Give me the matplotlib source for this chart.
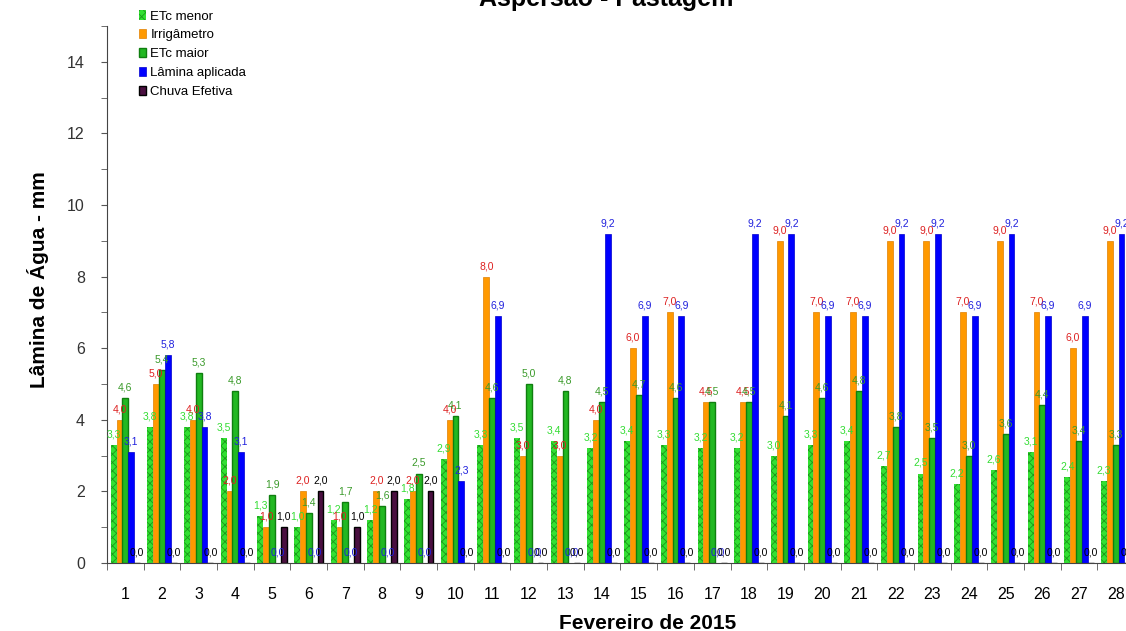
import numpy as np
import matplotlib.pyplot as plt

# --- DATA ---
dias = [str(d) for d in range(1, 29)]
etc_menor = [3.3, 3.8, 3.8, 3.5, 1.3, 1.0, 1.2, 1.2, 1.8, 2.9, 3.3, 3.5, 3.4, 3.2,
             3.4, 3.3, 3.2, 3.2, 3.0, 3.3, 3.4, 2.7, 2.5, 2.2, 2.6, 3.1, 2.4, 2.3]
irrigametro = [4.0, 5.0, 4.0, 2.0, 1.0, 2.0, 1.0, 2.0, 2.0, 4.0, 8.0, 3.0, 3.0, 4.0,
               6.0, 7.0, 4.5, 4.5, 9.0, 7.0, 7.0, 9.0, 9.0, 7.0, 9.0, 7.0, 6.0, 9.0]
etc_maior = [4.6, 5.4, 5.3, 4.8, 1.9, 1.4, 1.7, 1.6, 2.5, 4.1, 4.6, 5.0, 4.8, 4.5,
             4.7, 4.6, 4.5, 4.5, 4.1, 4.6, 4.8, 3.8, 3.5, 3.0, 3.6, 4.4, 3.4, 3.3]
lamina = [3.1, 5.8, 3.8, 3.1, 0.0, 0.0, 0.0, 0.0, 0.0, 2.3, 6.9, 0.0, 0.0, 9.2,
          6.9, 6.9, 0.0, 9.2, 9.2, 6.9, 6.9, 9.2, 9.2, 6.9, 9.2, 6.9, 6.9, 9.2]
chuva = [0.0, 0.0, 0.0, 0.0, 1.0, 2.0, 1.0, 2.0, 2.0, 0.0, 0.0, 0.0, 0.0, 0.0,
         0.0, 0.0, 0.0, 0.0, 0.0, 0.0, 0.0, 0.0, 0.0, 0.0, 0.0, 0.0, 0.0, 0.0]

plt.rcParams['font.family'] = ['Liberation Sans', 'DejaVu Sans']
plt.rcParams['hatch.linewidth'] = 0.6

fig = plt.figure(figsize=(11.26, 6.31), dpi=100)
ax = fig.add_axes([107 / 1126, 68 / 631, 1027 / 1126, 537 / 631])

x = np.arange(len(dias))
w = 0.16

series = [
    (etc_menor, "ETc menor", dict(color="#33e033", edgecolor="#1a9a1a", hatch="xxxx", linewidth=0), "#33dd33"),
    (irrigametro, "Irrigâmetro", dict(color="#ff9900", edgecolor="#e08000", linewidth=0.5), "#dd2020"),
    (etc_maior, "ETc maior", dict(color="#22b822", edgecolor="#0f7f0f", linewidth=1.0), "#3a9a2a"),
    (lamina, "Lâmina aplicada", dict(color="#0000ff", edgecolor="#0000cc", linewidth=0.5), "#2020dd"),
    (chuva, "Chuva Efetiva", dict(color="#4a0f40", edgecolor="black", linewidth=1.0), "black"),
]

for i, (vals, label, style, lcolor) in enumerate(series):
    pos = x + (i - 2) * w
    ax.bar(pos, vals, width=w, label=label, **style)
    for px, v in zip(pos, vals):
        ax.annotate(f"{v:.1f}".replace(".", ","), (px, v), xytext=(0, 4),
                    textcoords="offset points", ha="center", va="bottom",
                    fontsize=7.5, color=lcolor)

ax.set_xlim(-0.5, len(dias) - 0.5)
ax.set_ylim(0, 15)
ax.set_yticks(np.arange(0, 16, 2))
ax.set_yticks(np.arange(0, 16, 1), minor=True)
ax.set_xticks(x)
ax.set_xticklabels(dias, fontsize=11.5)
ax.set_xticks(np.arange(-0.5, len(dias), 1), minor=True)
ax.tick_params(axis="x", which="major", length=0, pad=17)
ax.tick_params(axis="x", which="minor", length=5, direction="out", color="#555555")
ax.tick_params(axis="y", which="both", length=4, direction="out", labelsize=11.5, pad=12, color="#555555")
for lbl in ax.get_yticklabels():
    lbl.set_color("#333333")
for side in ["top", "right"]:
    ax.spines[side].set_visible(False)
ax.spines["left"].set_color("#444444")
ax.spines["bottom"].set_color("#444444")

ax.set_ylabel("Lâmina de Água - mm", fontsize=15, fontweight="bold")
ax.yaxis.set_label_coords(-0.056, 0.527)
ax.set_xlabel("Fevereiro de 2015", fontsize=15, fontweight="bold")
ax.xaxis.set_label_coords(0.526, -0.095)
fig.text(606 / 1126, 1 - 6 / 631, "Aspersão - Pastagem", ha="center", va="baseline",
         fontsize=18, fontweight="bold")

fig.legend(loc="upper left", bbox_to_anchor=(134 / 1126, 1 - 5 / 631), frameon=False,
           fontsize=9.5, handlelength=0.5, handleheight=0.7, handletextpad=0.35,
           labelspacing=0.5, borderaxespad=0)

fig.savefig("out.png", dpi=100)
